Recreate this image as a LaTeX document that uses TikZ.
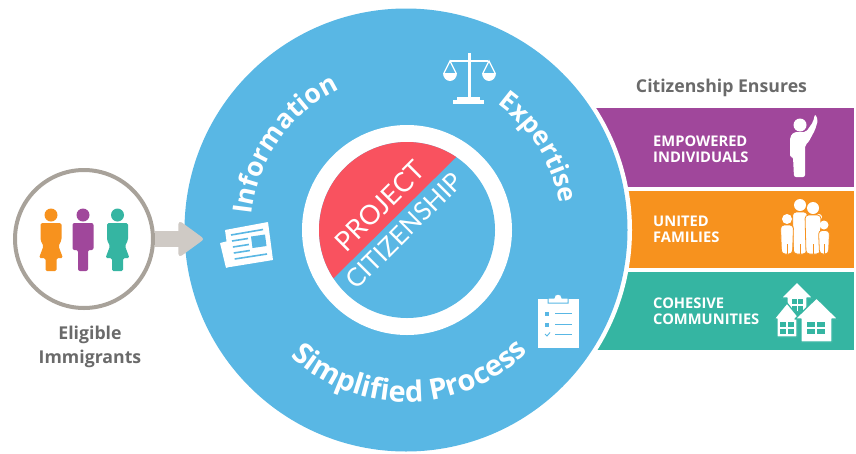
\documentclass[tikz,border=0pt]{standalone}
\usepackage{fontspec}
\setmainfont{Open Sans}
\newfontfamily\sealfont{Lato}
\usetikzlibrary{decorations.text}
\usetikzlibrary{arrows.meta}
\definecolor{hubblue}{HTML}{59B7E4}
\definecolor{sealred}{HTML}{F9525F}
\definecolor{bandpurple}{HTML}{A0479B}
\definecolor{bandorange}{HTML}{F7921E}
\definecolor{bandteal}{HTML}{35B5A2}
\definecolor{ringgrey}{HTML}{A8A29A}
\definecolor{flowgrey}{HTML}{CFCAC5}
\definecolor{textgrey}{HTML}{6A6A6A}
\tikzset{
    band/.style={rectangle,minimum width=264,minimum height=#1,inner sep=0,outer sep=0,anchor=north west},
    bandlabel/.style={anchor=west,align=left,inner sep=0,text=white,font=\fontsize{14.7}{16}\selectfont\bfseries},
    caption/.style={align=center,inner sep=0,text=textgrey,font=\fontsize{17.7}{24}\selectfont\bfseries},
    ringtext/.style n args={2}{decorate,decoration={text along path,text align=center,text={|\fontsize{#1}{#1}\selectfont\bfseries\color{white}|#2}}},
    flow/.style={line width=16,flowgrey,-{Triangle[length=26,width=37,round,line width=4]}},
    paper/.style={fill=white,rounded corners=0.5}
}
\newcommand{\manfig}[2]{
    \fill[#2] (#1,215) circle[radius=6.5];
    \fill[#2,rounded corners=2] (#1-10.5,223) -- (#1+10.5,223) -- (#1+10.5,250) -- (#1+5,250) -- (#1+5,271) -- (#1-5,271) -- (#1-5,250) -- (#1-10.5,250) -- cycle;
}
\newcommand{\womanfig}[2]{
    \fill[#2] (#1,215) circle[radius=6.5];
    \fill[#2,rounded corners=1.5] (#1-10.5,223) -- (#1+10.5,223) -- (#1+10.5,240) -- (#1+7.5,246) -- (#1+12,258) -- (#1+5.5,258) -- (#1+5.5,271) -- (#1-5.5,271) -- (#1-5.5,258) -- (#1-12,258) -- (#1-7.5,246) -- (#1-10.5,240) -- cycle;
}
\newcommand{\kinfig}[5]{
    \fill[white] (#1,#2) circle[radius=#3];
    \filldraw[white,draw=bandorange,line width=0.8,rounded corners=3.5] (#1-#4,#2+#3+1) -- (#1+#4,#2+#3+1) -- (#1+#4-1,#5) -- (#1-#4+1,#5) -- cycle;
    \draw[bandorange,line width=0.8] (#1,#5) -- (#1,#5-10);
}
\newcommand{\housefig}[9]{
    \filldraw[white,draw=bandteal,line width=1.2,line join=round] (#1,#2) -- (#3,#5) -- (#3-#4,#5) -- (#3-#4,#7) -- (2*#1-#3+#4,#7) -- (2*#1-#3+#4,#5) -- (2*#1-#3,#5) -- cycle;
    \fill[bandteal] (#6,#8) rectangle (#6+#9,#8+12);
    \draw[white,line width=1.2] (#6+#9/2,#8) -- (#6+#9/2,#8+12) (#6,#8+6) -- (#6+#9,#8+6);
}
\begin{document}
\begin{tikzpicture}[x=1pt,y=-1pt]
    \useasboundingbox (0,0) rectangle (856,453);
    \coordinate (centre) at (407,230);
    \coordinate (arrowtip) at (203,239);

    \node[band=79,fill=bandpurple] (empowered) at (590,108) {};
    \node[band=77,fill=bandorange] (united) at (590,191) {};
    \node[band=78,fill=bandteal] (cohesive) at (590,272) {};
    \fill[white] (centre) circle[radius=225];
    \node[circle,fill=hubblue,minimum size=443,inner sep=0,outer sep=0] (hub) at (406,230) {};
    \node[circle,draw=ringgrey,line width=4,fill=white,minimum size=138,inner sep=0] (immigrants) at (84,239) {};
    \draw[flow] (immigrants.east) -- (arrowtip);

    \node[circle,fill=white,minimum size=210,inner sep=0] (ring) at (centre) {};
    \node[circle,fill=hubblue,minimum size=176,inner sep=0] (seal) at (centre) {};
    \fill[sealred] (centre) ++(146.7:88) arc[start angle=146.7,end angle=304,radius=88] -- cycle;
    \node[rotate=45,anchor=south,inner sep=0,text=white,font=\fontsize{27}{27}\sealfont] (project) at (387,213) {PROJECT};
    \node[rotate=45,anchor=north,inner sep=0,text=white,font=\fontsize{25.5}{25.5}\sealfont] (citizenship) at (397,224) {CITIZENSHIP};

    \path[ringtext={26.5}{Information}] (centre) ++(179:156) arc[start angle=179,end angle=251,radius=156];
    \path[ringtext={26}{Expertise}] (centre) ++(298:155) arc[start angle=298,end angle=358,radius=155];
    \path[ringtext={29}{Simplified Process}] (centre) ++(140:172) arc[start angle=140,end angle=38,radius=172];

    \manfig{83}{bandpurple}
    \womanfig{51}{bandorange}
    \womanfig{117.5}{bandteal}
    \node[caption] (eligible) at (90,347) {Eligible\\Immigrants};
    \node[caption] (ensures) at (721.5,88) {Citizenship Ensures};
    \node[bandlabel] (empoweredlabel) at (653,149) {EMPOWERED\\INDIVIDUALS};
    \node[bandlabel] (unitedlabel) at (653,229) {UNITED\\FAMILIES};
    \node[bandlabel] (cohesivelabel) at (653,311) {COHESIVE\\COMMUNITIES};

    \fill[white] (467.5,53) rectangle (470.5,98);
    \draw[white,line width=2] (450,61) -- (488,61);
    \draw[white,line width=1.2] (444,73) -- (450,61) -- (456,73) (483,73) -- (489,61) -- (495,73);
    \fill[white] (443,73) arc[start angle=180,end angle=0,x radius=7,y radius=8] -- cycle;
    \fill[white] (482,73) arc[start angle=180,end angle=0,x radius=7,y radius=8] -- cycle;
    \fill[white] (457,97) rectangle (480,101);
    \fill[white] (453,100) rectangle (484,104);

    \fill[paper] (220,243) -- (228,241) -- (232,266) -- (226,268) -- cycle;
    \fill[paper] (225,230) -- (268,222) -- (273,260) -- (230,267) -- cycle;
    \begin{scope}[hubblue,line width=1.6]
        \draw (231,235) -- (263,229.5);
        \draw (232,241) -- (248,238.5) (232.9,247) -- (248.9,244.5) (233.8,253) -- (249.8,250.5);
        \draw (234.7,259) -- (267,254);
        \fill (251,236.5) -- (265,234.5) -- (266.5,246) -- (252.5,248) -- cycle;
    \end{scope}

    \fill[white] (538,299) rectangle (579,348);
    \filldraw[white,draw=hubblue,line width=1] (548,303) -- (548,298) -- (554,298) arc[start angle=180,end angle=360,radius=4] -- (568,298) -- (568,303) -- cycle;
    \begin{scope}[hubblue]
        \fill (545,311.5) rectangle (549,315.5);
        \fill (545,322.5) rectangle (549,326.5);
        \draw[line width=0.9] (545,334) -- (547,336) -- (550,332.5);
        \draw[line width=1] (555,313.5) -- (572,313.5) (555,324.5) -- (572,324.5) (555,334.5) -- (572,334.5);
    \end{scope}

    \fill[white] (800,125) circle[radius=6.5];
    \fill[white,rounded corners=2] (790,137) -- (794,132) -- (806,132) -- (813,122) -- (815,114) -- (818,120) -- (815,130) -- (808,143) -- (805,145) -- (805,177) -- (794,177) -- (793,157) -- (790,157) -- cycle;

    \kinfig{819}{217}{3}{3}{230}
    \kinfig{800}{205}{6}{7.5}{254}
    \kinfig{813}{208}{6}{8}{254}
    \kinfig{787}{219}{5}{6.5}{254}
    \kinfig{824}{225}{4.5}{5.5}{254}

    \housefig{797}{282}{813}{6}{298}{792}{311}{299}{11}
    \housefig{787}{303}{800}{3}{319}{780}{337}{322}{14}
    \housefig{816.5}{298}{838}{6}{319}{807}{342}{322}{18}
\end{tikzpicture}
\end{document}
